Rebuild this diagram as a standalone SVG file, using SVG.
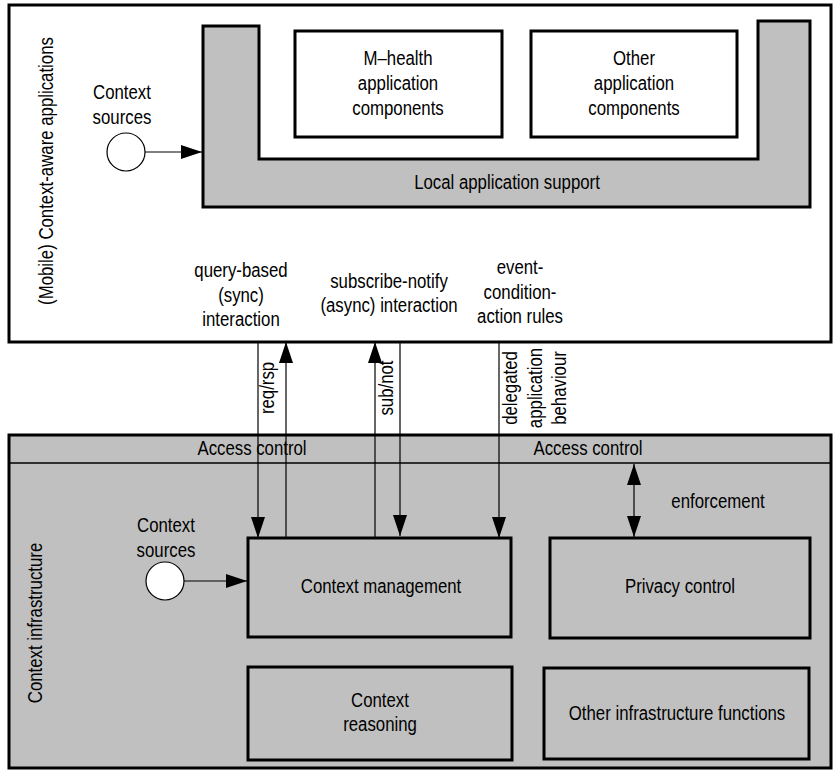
<svg xmlns="http://www.w3.org/2000/svg" width="833" height="770" viewBox="0 0 833 770">
<style>
text{font-family:"Liberation Sans",Arial,sans-serif;font-size:21px;fill:#000;text-anchor:middle}
.box{fill:#fff;stroke:#000;stroke-width:3}
.gbox{fill:#c0c0c0;stroke:#000;stroke-width:3}
.ln{fill:none;stroke:#000;stroke-width:1.2}
.src{fill:#fff;stroke:#000;stroke-width:1.2}
</style>
<defs>
<marker id="ah" markerUnits="userSpaceOnUse" markerWidth="21" markerHeight="14" refX="21" refY="7" orient="auto-start-reverse" viewBox="0 0 21 14">
<path d="M0,0 L21,7 L0,14 z" fill="#000"/>
</marker>
</defs>

<g id="applications">
<rect class="box" x="9" y="5" width="822" height="337"/>
<text transform="translate(53,171) rotate(-90) scale(0.8,1)">(Mobile) Context-aware applications</text>
</g>

<g id="local-support">
<path class="gbox" d="M203,26 L259,26 L259,159 L758,159 L758,21 L810,21 L810,207 L203,207 Z"/>
<text transform="translate(507,189) scale(0.8,1)">Local application support</text>
</g>

<g id="mhealth">
<rect class="box" x="295" y="31" width="207" height="106"/>
<text transform="translate(398,65) scale(0.8,1)">M–health</text>
<text transform="translate(398,90) scale(0.8,1)">application</text>
<text transform="translate(398,115) scale(0.8,1)">components</text>
</g>

<g id="other-app">
<rect class="box" x="531" y="31" width="206" height="106"/>
<text transform="translate(634,65) scale(0.8,1)">Other</text>
<text transform="translate(634,90) scale(0.8,1)">application</text>
<text transform="translate(634,115) scale(0.8,1)">components</text>
</g>

<g id="context-sources-top">
<text transform="translate(122,99) scale(0.8,1)">Context</text>
<text transform="translate(122,124) scale(0.8,1)">sources</text>
<circle class="src" cx="126" cy="152" r="19"/>
</g>

<g id="labels-top">
<text transform="translate(241,277) scale(0.8,1)">query-based</text>
<text transform="translate(241,302) scale(0.8,1)">(sync)</text>
<text transform="translate(241,326) scale(0.8,1)">interaction</text>
<text transform="translate(389,288) scale(0.8,1)">subscribe-notify</text>
<text transform="translate(389,312) scale(0.8,1)">(async) interaction</text>
<text transform="translate(520,274) scale(0.8,1)">event-</text>
<text transform="translate(520,299) scale(0.8,1)">condition-</text>
<text transform="translate(520,323) scale(0.8,1)">action rules</text>
</g>

<g id="infrastructure">
<rect class="gbox" x="9" y="435" width="822" height="333"/>
<line x1="9" y1="463" x2="831" y2="463" stroke="#000" stroke-width="1.5"/>
<text transform="translate(252,455) scale(0.8,1)">Access control</text>
<text transform="translate(588,455) scale(0.8,1)">Access control</text>
<text transform="translate(42,623) rotate(-90) scale(0.8,1)">Context infrastructure</text>
</g>

<g id="context-sources-bottom">
<text transform="translate(166,532) scale(0.8,1)">Context</text>
<text transform="translate(166,557) scale(0.8,1)">sources</text>
<circle class="src" cx="165" cy="581" r="19"/>
</g>

<g id="context-management">
<rect class="gbox" x="248" y="538" width="263" height="99"/>
<text transform="translate(381,593) scale(0.8,1)">Context management</text>
</g>

<g id="privacy-control">
<rect class="gbox" x="550" y="538" width="260" height="100"/>
<text transform="translate(680,593) scale(0.8,1)">Privacy control</text>
</g>

<g id="context-reasoning">
<rect class="gbox" x="248" y="667" width="264" height="93"/>
<text transform="translate(380,707) scale(0.8,1)">Context</text>
<text transform="translate(380,731) scale(0.8,1)">reasoning</text>
</g>

<g id="other-infra">
<rect class="gbox" x="544" y="668" width="265" height="91"/>
<text transform="translate(677,720) scale(0.8,1)">Other infrastructure functions</text>
</g>

<g id="connectors">
<line class="ln" x1="145" y1="152" x2="202" y2="152" marker-end="url(#ah)"/>
<line class="ln" x1="184" y1="581" x2="247" y2="581" marker-end="url(#ah)"/>
<line class="ln" x1="258" y1="342" x2="258" y2="538" marker-end="url(#ah)"/>
<line class="ln" x1="286" y1="538" x2="286" y2="342" marker-end="url(#ah)"/>
<line class="ln" x1="375" y1="538" x2="375" y2="342" marker-end="url(#ah)"/>
<line class="ln" x1="400" y1="342" x2="400" y2="536" marker-end="url(#ah)"/>
<line class="ln" x1="499" y1="342" x2="499" y2="538" marker-end="url(#ah)"/>
<line class="ln" x1="634" y1="464" x2="634" y2="537" marker-start="url(#ah)" marker-end="url(#ah)"/>
<text transform="translate(274,388) rotate(-90) scale(0.8,1)">req/rsp</text>
<text transform="translate(393,388) rotate(-90) scale(0.8,1)">sub/not</text>
<text transform="translate(517,388) rotate(-90) scale(0.8,1)">delegated</text>
<text transform="translate(542,388) rotate(-90) scale(0.8,1)">application</text>
<text transform="translate(566,388) rotate(-90) scale(0.8,1)">behaviour</text>
<text transform="translate(718,508) scale(0.8,1)">enforcement</text>
</g>
</svg>
